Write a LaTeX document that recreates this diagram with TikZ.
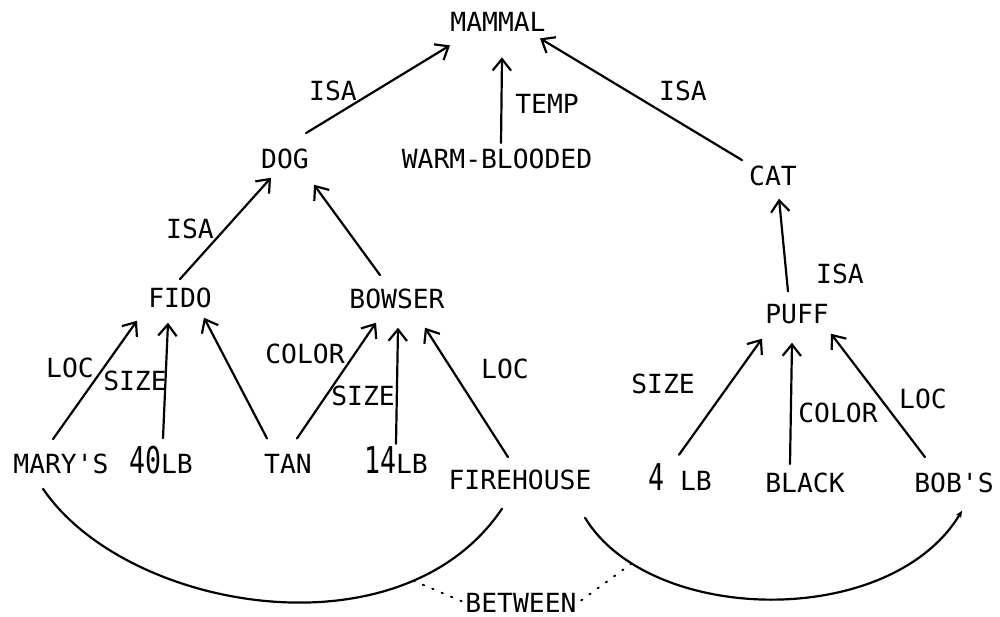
\documentclass[tikz,border=0pt]{standalone}
\usepackage{fontspec}
\newfontfamily\plotfont{DejaVu Sans Mono}
\usetikzlibrary{arrows.meta,calc}
% large, condensed digits used in the weight values
\newcommand{\bigfig}[1]{\scalebox{0.72}[1]{\fontsize{21}{21}\selectfont #1}}

\begin{document}
\begin{tikzpicture}[x=0.02cm,y=-0.02cm,
  lbl/.style={font=\plotfont\fontsize{15}{15}\selectfont, inner sep=0pt, anchor=base},
  arr/.style={line width=1.25pt, line cap=round,
    -{Straight Barb[length=6.5pt,width=10.5pt,line width=1.25pt]}},
  link/.style={line width=1.25pt, line cap=round},
  dots/.style={line width=1.1pt, dash pattern=on 0.8pt off 5pt, line cap=round}]

\useasboundingbox (0,0) rectangle (1000,616);

% concept nodes (placed at their baselines)
\node[lbl] (mammal)    at (498,31)  {MAMMAL};
\node[lbl] (dog)       at (285,168) {DOG};
\node[lbl] (warm)      at (497,168) {WARM-BLOODED};
\node[lbl] (cat)       at (773,185) {CAT};
\node[lbl] (fido)      at (180,307) {FIDO};
\node[lbl] (bowser)    at (397,308) {BOWSER};
\node[lbl] (puff)      at (797,323) {PUFF};
\node[lbl] (mary)      at (61,473)  {MARY'S};
\node[lbl] (lbforty)   at (161,473) {\bigfig{40}LB};
\node[lbl] (tan)       at (288,473) {TAN};
\node[lbl] (lbfourteen) at (396,473) {\bigfig{14}LB};
\node[lbl] (firehouse) at (520,489) {FIREHOUSE};
\node[lbl] (lbfour)    at (680,490) {\bigfig{4} LB};
\node[lbl] (black)     at (805,492) {BLACK};
\node[lbl] (bob)       at (954,492) {BOB'S};
\node[lbl] (between)   at (521,612) {BETWEEN};

% relation labels
\node[lbl] (isaA)   at (333,100) {ISA};
\node[lbl] (temp)   at (547,113) {TEMP};
\node[lbl] (isaB)   at (683,100) {ISA};
\node[lbl] (isaC)   at (190,238) {ISA};
\node[lbl] (isaD)   at (840,283) {ISA};
\node[lbl] (locA)   at (70,377)  {LOC};
\node[lbl] (sizeA)  at (135,390) {SIZE};
\node[lbl] (colorA) at (305,363) {COLOR};
\node[lbl] (sizeB)  at (363,405) {SIZE};
\node[lbl] (locB)   at (505,378) {LOC};
\node[lbl] (sizeC)  at (663,393) {SIZE};
\node[lbl] (colorB) at (838,422) {COLOR};
\node[lbl] (locC)   at (923,408) {LOC};

% upper hierarchy
\draw[arr] ($(dog.north)+(21,-15)$)   -- ($(mammal.south)+(-48,14)$);
\draw[arr] ($(warm.north)+(4,-5)$)    -- ($(mammal.south)+(4,26)$);
\draw[arr] ($(cat.north)+(-31,-5)$)   -- ($(mammal.south)+(42,7)$);
\draw[arr] ($(fido.north)+(0,-8)$)    -- ($(dog.south)+(-14,9)$);
\draw[arr] ($(bowser.north)+(-17,-13)$) -- ($(dog.south)+(29,16)$);
\draw[arr] ($(puff.north)+(-9,-12)$)  -- ($(cat.south)+(6,13)$);

% properties of FIDO
\draw[arr] ($(mary.north)+(-8,-14)$)    -- ($(fido.south)+(-43,13)$);
\draw[arr] ($(lbforty.north)+(2,-7)$)   -- ($(fido.south)+(-12,15)$);
\draw[arr] ($(tan.north)+(-21,-15)$)    -- ($(fido.south)+(24,10)$);

% properties of BOWSER
\draw[arr] ($(tan.north)+(9,-15)$)        -- ($(bowser.south)+(-21,14)$);
\draw[arr] ($(lbfourteen.north)+(0,-2)$)  -- ($(bowser.south)+(1,19)$);
\draw[arr] ($(firehouse.north)+(-12,-12)$) -- ($(bowser.south)+(28,19)$);

% properties of PUFF
\draw[arr] ($(lbfour.north)+(-1,-8)$)   -- ($(puff.south)+(-35,15)$);
\draw[arr] ($(black.north)+(-15,-8)$)   -- ($(puff.south)+(-5,19)$);
\draw[arr] ($(bob.north)+(-29,-15)$)    -- ($(puff.south)+(34,10)$);

% BETWEEN relation
\draw[link] ($(mary.south)+(-18,15)$) .. controls (125,610) and (400,660) ..
  ($(firehouse.south)+(-18,19)$) coordinate[pos=0.78] (bendL);
\draw[link,-{Stealth[length=4pt,width=3.5pt]}] ($(firehouse.south)+(65,28)$)
  .. controls (650,625) and (890,630) .. ($(bob.south)+(8,18)$)
  coordinate[pos=0.17] (bendR);
\draw[dots] (bendL) -- ($(between.west)+(-3,-1)$);
\draw[dots] (bendR) -- ($(between.east)+(3,-1)$);

\end{tikzpicture}
\end{document}
